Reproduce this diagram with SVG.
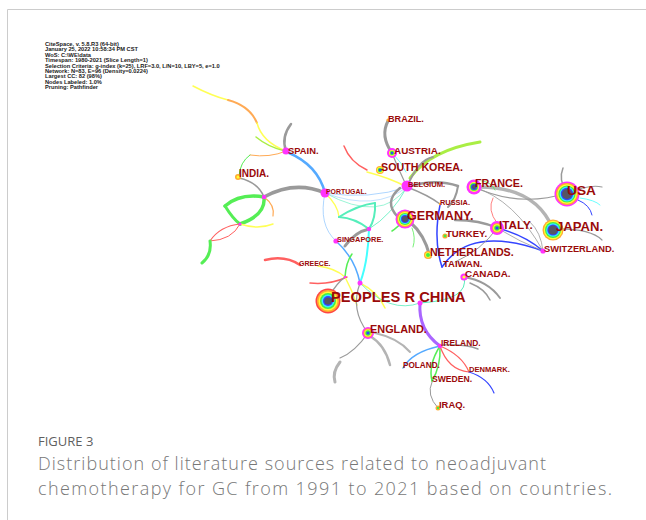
<svg xmlns="http://www.w3.org/2000/svg" width="646" height="520" viewBox="0 0 646 520">
<style>
.lb{font-family:"Liberation Sans",Arial,sans-serif;font-weight:bold;fill:#9a0a0a}
.hd{font-family:"Liberation Sans",Arial,sans-serif;font-weight:bold;fill:#1a1a1a;font-size:5.7px}
.cap{font-family:"Open Sans","Noto Sans",sans-serif;font-weight:300;fill:#777777}
#edges path{fill:none;stroke-linecap:round}
.g{stroke:#9a9a9a}.gl{stroke:#b4b4b4}.b{stroke:#55aaff}.db{stroke:#3344ff}.lbl{stroke:#99ccff}
.gr{stroke:#55ee55}.r{stroke:#ff6060}.y{stroke:#ffff55}.o{stroke:#ffaa55}.c{stroke:#44ffff}
.t{stroke:#55eebb}.p{stroke:#aa66ff}.lm{stroke:#aaee44}
.mg{fill:#ff33ff}.rd{fill:#ff4444}.or{fill:#ffaa33}.ye{fill:#ffff33}.gn{fill:#44ee44}.cy{fill:#33eeff}.bl{fill:#3344ff}.dk{fill:#555566}
</style>
<line x1="7.5" y1="9.5" x2="646" y2="9.5" stroke="#cccccc" stroke-width="1"/>
<line x1="7.5" y1="9.5" x2="7.5" y2="520" stroke="#cccccc" stroke-width="1"/>
<g id="header">
<text class="hd" x="45" y="46">CiteSpace, v. 5.8.R3 (64-bit)</text>
<text class="hd" x="45" y="51.4">January 25, 2022 10:58:34 PM CST</text>
<text class="hd" x="45" y="56.8">WoS: C:\WE\data</text>
<text class="hd" x="45" y="62.2">Timespan: 1980-2021 (Slice Length=1)</text>
<text class="hd" x="45" y="67.6">Selection Criteria: g-index (k=25), LRF=3.0, L/N=10, LBY=5, e=1.0</text>
<text class="hd" x="45" y="73">Network: N=83, E=96 (Density=0.0224)</text>
<text class="hd" x="45" y="78.4">Largest CC: 82 (98%)</text>
<text class="hd" x="45" y="83.8">Nodes Labeled: 1.0%</text>
<text class="hd" x="45" y="89.2">Pruning: Pathfinder</text>
</g>
<g id="edges">
<path class="y" stroke-width="1.5" d="M193,86 Q212,96 228,100"/>
<path class="o" stroke-width="2" d="M228,100 Q250,106 257,123"/>
<path class="y" stroke-width="1.5" d="M257,123 Q262,142 286,151"/>
<path class="lm" stroke-width="1.5" d="M256,137 Q268,147 285,151"/>
<path class="g" stroke-width="2.5" d="M291,124 Q281,137 286,151"/>
<path class="o" stroke-width="1" d="M250,155 Q270,158 286,151"/>
<path class="gr" stroke-width="1" d="M250,155 Q240,162 239,176"/>
<path class="b" stroke-width="2.5" d="M287,152 Q318,165 325,193"/>
<path class="g" stroke-width="3.5" d="M264,197 Q295,180 325,193"/>
<path class="g" stroke-width="1.5" d="M239,178 Q258,182 264,197"/>
<path class="gr" stroke-width="3.5" d="M264,197 Q240,193 225,206"/>
<path class="gr" stroke-width="3" d="M225,206 Q233,219 240,224"/>
<path class="gr" stroke-width="3.5" d="M264,197 Q266,215 240,224"/>
<path class="o" stroke-width="1.2" d="M264,197 Q275,205 273,216"/>
<path class="y" stroke-width="1.5" d="M240,224 Q258,230 273,224"/>
<path class="r" stroke-width="1.2" d="M240,224 Q220,226 210,241"/>
<path class="r" stroke-width="1" d="M240,224 Q232,240 210,241"/>
<path class="gr" stroke-width="3" d="M210,241 Q212,255 202,263"/>
<path class="r" stroke-width="2.5" d="M265,260 Q285,255 300,265"/>
<path class="y" stroke-width="1.5" d="M318,266 Q335,268 345,277"/>
<path class="r" stroke-width="1.5" d="M310,283 Q330,285 347,277"/>
<path class="g" stroke-width="1.5" d="M330,295 Q337,283 345,277"/>
<path class="lbl" stroke-width="0.8" d="M325,193 Q370,200 407,187"/>
<path class="lbl" stroke-width="0.6" d="M325,193 Q375,212 407,187"/>
<path class="t" stroke-width="0.6" d="M325,193 Q382,224 407,187"/>
<path class="lbl" stroke-width="0.8" d="M325,193 Q318,225 336,241"/>
<path class="y" stroke-width="1.2" d="M325,193 Q338,205 339,217"/>
<path class="t" stroke-width="2" d="M339,217 Q358,205 375,203"/>
<path class="t" stroke-width="2" d="M339,217 Q355,218 369,229"/>
<path class="t" stroke-width="2" d="M375,203 Q376,218 369,229"/>
<path class="g" stroke-width="3" d="M345,246 Q355,232 369,229"/>
<path class="c" stroke-width="2" d="M369,229 Q368,262 360,283"/>
<path class="t" stroke-width="0.8" d="M369,229 Q392,215 407,187"/>
<path class="b" stroke-width="1.5" d="M336,241 Q355,258 360,283"/>
<path class="gr" stroke-width="1.5" d="M345,277 Q346,262 352,254"/>
<path class="y" stroke-width="1.5" d="M345,277 Q352,290 357,305"/>
<path class="y" stroke-width="1.5" d="M360,283 Q378,292 385,308"/>
<path class="g" stroke-width="1.2" d="M360,283 Q350,310 368,333"/>
<path class="t" stroke-width="0.8" d="M360,283 Q390,314 420,303"/>
<path class="t" stroke-width="1" d="M420,303 Q470,300 464,277"/>
<path class="p" stroke-width="3" d="M420,303 Q418,330 440,346"/>
<path class="g" stroke-width="1.2" d="M368,333 Q355,352 340,358"/>
<path class="gl" stroke-width="3" d="M340,362 Q332,372 335,382"/>
<path class="gl" stroke-width="2.5" d="M370,336 Q385,345 390,365"/>
<path class="gl" stroke-width="2" d="M375,333 Q398,338 410,352"/>
<path class="b" stroke-width="1.5" d="M440,346 Q412,352 403,368"/>
<path class="gr" stroke-width="1.5" d="M440,346 Q428,365 432,381"/>
<path class="gr" stroke-width="1.5" d="M440,346 Q441,366 432,381"/>
<path class="r" stroke-width="1.2" d="M440,346 Q462,355 469,372"/>
<path class="r" stroke-width="1.2" d="M440,346 Q448,370 469,372"/>
<path class="db" stroke-width="1.2" d="M469,372 Q488,378 494,393"/>
<path class="g" stroke-width="1.5" d="M443,345 Q465,344 478,349"/>
<path class="g" stroke-width="1" d="M432,382 Q426,395 438,408"/>
<path class="g" stroke-width="3" d="M392,153 Q380,136 388,121"/>
<path class="r" stroke-width="1.5" d="M344,146 Q350,162 367,170"/>
<path class="y" stroke-width="1.5" d="M367,172 Q390,178 407,187"/>
<path class="lm" stroke-width="3" d="M410,178 Q430,150 480,142"/>
<path class="g" stroke-width="1.2" d="M392,153 Q398,168 407,187"/>
<path class="c" stroke-width="0.8" d="M394,155 Q402,163 406,172"/>
<path class="g" stroke-width="2" d="M407,187 Q418,160 433,157"/>
<path class="g" stroke-width="2.5" d="M407,187 Q435,178 458,186"/>
<path class="g" stroke-width="2" d="M458,186 Q456,200 448,207"/>
<path class="g" stroke-width="1.5" d="M407,187 Q428,195 440,204"/>
<path class="g" stroke-width="2.5" d="M400,188 Q383,202 398,217"/>
<path class="g" stroke-width="3" d="M410,222 Q425,235 430,257"/>
<path class="gr" stroke-width="1.5" d="M405,219 Q397,228 392,231"/>
<path class="gr" stroke-width="0.8" d="M412,228 Q416,238 413,247"/>
<path class="gl" stroke-width="3.5" d="M474,187 Q535,185 553,229"/>
<path class="g" stroke-width="1.2" d="M474,187 Q520,208 567,193"/>
<path class="g" stroke-width="1.5" d="M563,168 Q558,180 567,193"/>
<path class="g" stroke-width="1.2" d="M567,193 Q590,184 602,187"/>
<path class="db" stroke-width="1" d="M578,200 Q590,205 592,215"/>
<path class="c" stroke-width="0.8" d="M580,198 Q595,200 600,205"/>
<path class="g" stroke-width="1.2" d="M553,229 Q590,228 602,240"/>
<path class="r" stroke-width="0.8" d="M493,198 Q487,210 497,223"/>
<path class="db" stroke-width="1.5" d="M440,205 Q433,240 442,267"/>
<path class="db" stroke-width="1.5" d="M442,267 Q470,225 543,251"/>
<path class="db" stroke-width="1.5" d="M497,228 Q525,235 543,251"/>
<path class="g" stroke-width="2.5" d="M455,220 Q480,220 497,228"/>
<path class="g" stroke-width="0.8" d="M497,228 Q520,242 543,251"/>
<path class="g" stroke-width="0.8" d="M474,187 Q515,200 543,251"/>
<path class="g" stroke-width="1" d="M497,228 Q482,250 455,262"/>
<path class="g" stroke-width="2" d="M464,277 Q488,281 500,298"/>
<path class="g" stroke-width="1.5" d="M470,283 Q485,289 490,300"/>
<path class="gr" stroke-width="0.8" d="M482,181 Q491,182 495,190"/>
<path class="g" stroke-width="0.8" d="M543,251 Q541,232 530,222"/>
</g>
<g id="n-china"><circle cx="328" cy="301" r="12.5" class="rd"/><circle cx="328" cy="301" r="11" class="or"/><circle cx="328" cy="301" r="9.5" class="ye"/><circle cx="328" cy="301" r="8" class="gn"/><circle cx="328" cy="301" r="6.5" class="cy"/><circle cx="328" cy="301" r="5" class="bl"/><circle cx="328" cy="301" r="3.6" class="dk"/><text class="lb" x="331" y="302" font-size="14.7">PEOPLES R CHINA</text></g>
<g id="n-usa"><circle cx="567" cy="194" r="12.5" class="mg"/><circle cx="567" cy="194" r="11" class="or"/><circle cx="567" cy="194" r="9.8" class="ye"/><circle cx="567" cy="194" r="8.6" class="gn"/><circle cx="567" cy="194" r="7.4" class="cy"/><circle cx="567" cy="194" r="6.2" class="bl"/><circle cx="567" cy="194" r="5" class="dk"/><text class="lb" x="567" y="195" font-size="13.7">USA</text></g>
<g id="n-japan"><circle cx="553" cy="230" r="10.5" class="or"/><circle cx="553" cy="230" r="9.2" class="ye"/><circle cx="553" cy="230" r="8" class="gn"/><circle cx="553" cy="230" r="6.8" class="cy"/><circle cx="553" cy="230" r="5.6" class="bl"/><circle cx="553" cy="230" r="4.5" class="dk"/><text class="lb" x="556" y="231" font-size="13.1">JAPAN.</text></g>
<g id="n-germany"><circle cx="405" cy="219" r="9.5" class="mg"/><circle cx="405" cy="219" r="8" class="or"/><circle cx="405" cy="219" r="7" class="ye"/><circle cx="405" cy="219" r="6" class="gn"/><circle cx="405" cy="219" r="5" class="cy"/><circle cx="405" cy="219" r="4" class="bl"/><circle cx="405" cy="219" r="3" class="dk"/><text class="lb" x="407" y="220" font-size="12.6">GERMANY.</text></g>
<g id="n-france"><circle cx="474" cy="187" r="7.5" class="mg"/><circle cx="474" cy="187" r="5" class="ye"/><circle cx="474" cy="187" r="4" class="gn"/><circle cx="474" cy="187" r="3" class="bl"/><circle cx="474" cy="187" r="2" class="dk"/><text class="lb" x="475" y="187" font-size="10.8">FRANCE.</text></g>
<g id="n-italy"><circle cx="497" cy="228" r="7" class="mg"/><circle cx="497" cy="228" r="4.8" class="or"/><circle cx="497" cy="228" r="3.8" class="ye"/><circle cx="497" cy="228" r="2.8" class="gn"/><circle cx="497" cy="228" r="1.6" class="bl"/><text class="lb" x="499" y="229" font-size="11.7">ITALY.</text></g>
<g id="n-england"><circle cx="368" cy="333" r="6" class="mg"/><circle cx="368" cy="333" r="4.5" class="or"/><circle cx="368" cy="333" r="3.6" class="ye"/><circle cx="368" cy="333" r="2.7" class="gn"/><circle cx="368" cy="333" r="1.6" class="bl"/><text class="lb" x="370" y="333" font-size="10.9">ENGLAND.</text></g>
<g id="n-austria"><circle cx="392" cy="153" r="5" class="mg"/><circle cx="392" cy="153" r="3" class="ye"/><circle cx="392" cy="153" r="2.2" class="gn"/><circle cx="392" cy="153" r="1.2" class="bl"/><text class="lb" x="394" y="154" font-size="9.9">AUSTRIA.</text></g>
<g id="n-southkorea"><circle cx="380" cy="170" r="4" class="or"/><circle cx="380" cy="170" r="3" class="ye"/><circle cx="380" cy="170" r="2.2" class="gn"/><circle cx="380" cy="170" r="1.3" class="bl"/><text class="lb" x="381" y="171" font-size="10.7">SOUTH KOREA.</text></g>
<g id="n-belgium"><circle cx="407" cy="186" r="5.5" class="mg"/><text class="lb" x="408" y="187" font-size="7.6">BELGIUM.</text></g>
<g id="n-brazil"><circle cx="388" cy="120" r="1.6" class="or"/><text class="lb" x="388" y="122" font-size="9.1">BRAZIL.</text></g>
<g id="n-russia"><circle cx="440" cy="204" r="1.2" class="or"/><text class="lb" x="440" y="205" font-size="7.4">RUSSIA.</text></g>
<g id="n-turkey"><circle cx="445" cy="236" r="2.6" class="or"/><circle cx="445" cy="236" r="1.4" class="gn"/><text class="lb" x="446" y="237" font-size="9.6">TURKEY.</text></g>
<g id="n-switzerland"><circle cx="543" cy="251" r="2.6" class="mg"/><text class="lb" x="544" y="252" font-size="9.3">SWITZERLAND.</text></g>
<g id="n-netherlands"><circle cx="428" cy="255" r="4" class="or"/><circle cx="428" cy="255" r="2.8" class="ye"/><circle cx="428" cy="255" r="2" class="gn"/><text class="lb" x="430" y="256" font-size="10.7">NETHERLANDS.</text></g>
<g id="n-taiwan"><text class="lb" x="443" y="267" font-size="9.5">TAIWAN.</text></g>
<g id="n-canada"><circle cx="464" cy="277" r="3.6" class="mg"/><circle cx="464" cy="277" r="1.6" class="ye"/><text class="lb" x="465" y="277" font-size="9.9">CANADA.</text></g>
<g id="n-ireland"><circle cx="440" cy="346" r="2.2" class="mg"/><text class="lb" x="441" y="346" font-size="8.4">IRELAND.</text></g>
<g id="n-poland"><text class="lb" x="403" y="368" font-size="8.2">POLAND.</text></g>
<g id="n-denmark"><text class="lb" x="469" y="372" font-size="7.6">DENMARK.</text></g>
<g id="n-sweden"><text class="lb" x="432" y="382" font-size="8.6">SWEDEN.</text></g>
<g id="n-iraq"><circle cx="438" cy="408" r="2.5" class="or"/><circle cx="438" cy="408" r="1.2" class="gn"/><text class="lb" x="439" y="408" font-size="9.4">IRAQ.</text></g>
<g id="n-greece"><text class="lb" x="299" y="266" font-size="7">GREECE.</text></g>
<g id="n-spain"><circle cx="286" cy="151" r="3.6" class="mg"/><text class="lb" x="288" y="154" font-size="9.4">SPAIN.</text></g>
<g id="n-india"><circle cx="238" cy="177" r="3" class="or"/><circle cx="238" cy="177" r="1.5" class="ye"/><text class="lb" x="239" y="177" font-size="10">INDIA.</text></g>
<g id="n-portugal"><circle cx="325" cy="193" r="4.5" class="mg"/><text class="lb" x="326" y="194" font-size="6.9">PORTUGAL.</text></g>
<g id="n-singapore"><circle cx="336" cy="241" r="2.6" class="mg"/><text class="lb" x="337" y="242" font-size="7.4">SINGAPORE.</text></g>
<g id="hubs"><circle cx="264" cy="197" r="2.2" class="mg"/><circle cx="240" cy="224" r="1.6" class="mg"/><circle cx="369" cy="229" r="2.2" class="mg"/><circle cx="360" cy="283" r="2.5" class="mg"/><circle cx="420" cy="303" r="2.5" class="mg"/><circle cx="345" cy="277" r="1.2" class="mg"/></g>
<g id="caption">
<text class="cap" x="38" y="446" font-size="13" style="fill:#5f5f5f;font-weight:normal">FIGURE 3</text>
<text class="cap" x="38" y="470" font-size="18" textLength="508" lengthAdjust="spacing">Distribution of literature sources related to neoadjuvant</text>
<text class="cap" x="38" y="495" font-size="18" textLength="574" lengthAdjust="spacing">chemotherapy for GC from 1991 to 2021 based on countries.</text>
</g>
</svg>
